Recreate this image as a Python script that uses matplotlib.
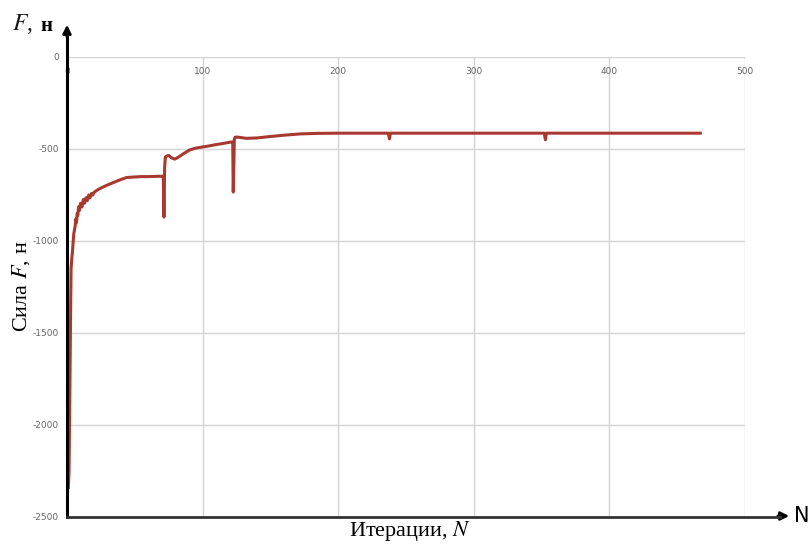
import matplotlib.pyplot as plt

plt.rcParams["mathtext.fontset"] = "stix"
plt.rcParams["axes.unicode_minus"] = False

# iteration number and force values
iterations = [1, 1.5, 2, 2.5, 3, 3.5, 4, 5, 6, 6.5, 7, 7.5, 8, 8.5, 9, 10, 11, 12, 13, 14,
              15, 16, 17, 18, 19, 20, 23, 26.5, 30, 35, 40, 44, 50, 55, 60, 65, 70,
              71, 71.5, 72, 72.5, 73, 75, 77, 79.5, 82, 86, 90.5, 95, 100, 105, 110,
              115, 121, 122.2, 122.6, 123, 123.4, 124, 125, 127.6, 132, 140, 150, 160,
              172, 185, 200, 220, 237, 237.8, 238.5, 260, 300, 330, 352, 352.8, 353.5,
              380, 420, 467]
force = [-2340, -2250, -1900, -1500, -1150, -1100, -1060, -960, -920, -880, -900, -850,
         -860, -815, -835, -795, -815, -775, -795, -765, -780, -750, -765, -742, -750,
         -735, -720, -707, -695, -680, -665, -655, -652, -650, -650, -649, -648,
         -648, -870, -600, -545, -540, -535, -548, -555, -545, -525, -505, -495, -489,
         -483, -476, -470, -462, -462, -734, -600, -445, -436, -435, -437, -442, -440,
         -432, -425, -418, -415, -414, -414, -414, -445, -414, -414, -414, -414,
         -414, -450, -414, -414, -414, -414]

x_ticks = [0, 100, 200, 300, 400, 500]
y_ticks = [0, -500, -1000, -1500, -2000, -2500]

fig = plt.figure(figsize=(8.12, 5.45), dpi=100)
ax = fig.add_axes([67 / 812, 1 - 517 / 545, (745 - 67) / 812, (517 - 57) / 545])

ax.plot(iterations, force, color="#a8392f", linewidth=2.2, solid_joinstyle="round")

ax.set_xlim(0, 500)
ax.set_ylim(-2500, 0)
ax.set_xticks(x_ticks)
ax.set_yticks(y_ticks)
ax.grid(True, color="#d4d4d4", linewidth=1)
ax.set_axisbelow(True)
for side in ["top", "right", "left", "bottom"]:
    ax.spines[side].set_visible(False)
ax.tick_params(length=0)
ax.tick_params(axis="y", labelsize=6.5, labelcolor="#666666", pad=6)
ax.set_xticklabels([])

# x tick labels sit just under the zero line
for t in x_ticks:
    ax.text(t, -55, str(t), ha="center", va="top", fontsize=6.5, color="#666666")

# axes with arrows
fig.add_artist(plt.Line2D([67 / 812, 67 / 812], [1 - 517 / 545, 1 - 35 / 545],
                          color="black", linewidth=2.2))
ax.annotate("", xy=(67 / 812, 1 - 22 / 545), xytext=(67 / 812, 1 - 40 / 545),
            xycoords="figure fraction",
            arrowprops=dict(arrowstyle="-|>", color="black", lw=2, mutation_scale=12))
fig.add_artist(plt.Line2D([67 / 812, 780 / 812], [1 - 517 / 545, 1 - 517 / 545],
                          color="#333333", linewidth=2))
ax.annotate("", xy=(792 / 812, 1 - 516 / 545), xytext=(775 / 812, 1 - 516 / 545),
            xycoords="figure fraction",
            arrowprops=dict(arrowstyle="-|>", color="black", lw=2, mutation_scale=12))
fig.text(794 / 812, 1 - 516 / 545, "N", fontsize=15, va="center", ha="left",
         family="DejaVu Sans")

serif = "Liberation Serif"
fig.text(12 / 812, 1 - 24 / 545, "$F$,", fontsize=17, family=serif, va="center",
         color="#1a1a1a")
fig.text(40 / 812, 1 - 26 / 545, "н", fontsize=15, family=serif, weight="bold",
         va="center")
fig.text(21 / 812, 1 - 286 / 545, "Сила $F$, н", fontsize=16, family=serif,
         rotation=90, ha="center", va="center")
fig.text(410 / 812, 1 - 531 / 545, "Итерации, $N$", fontsize=16, family=serif,
         ha="center", va="center")

fig.savefig("out.png", dpi=100)
